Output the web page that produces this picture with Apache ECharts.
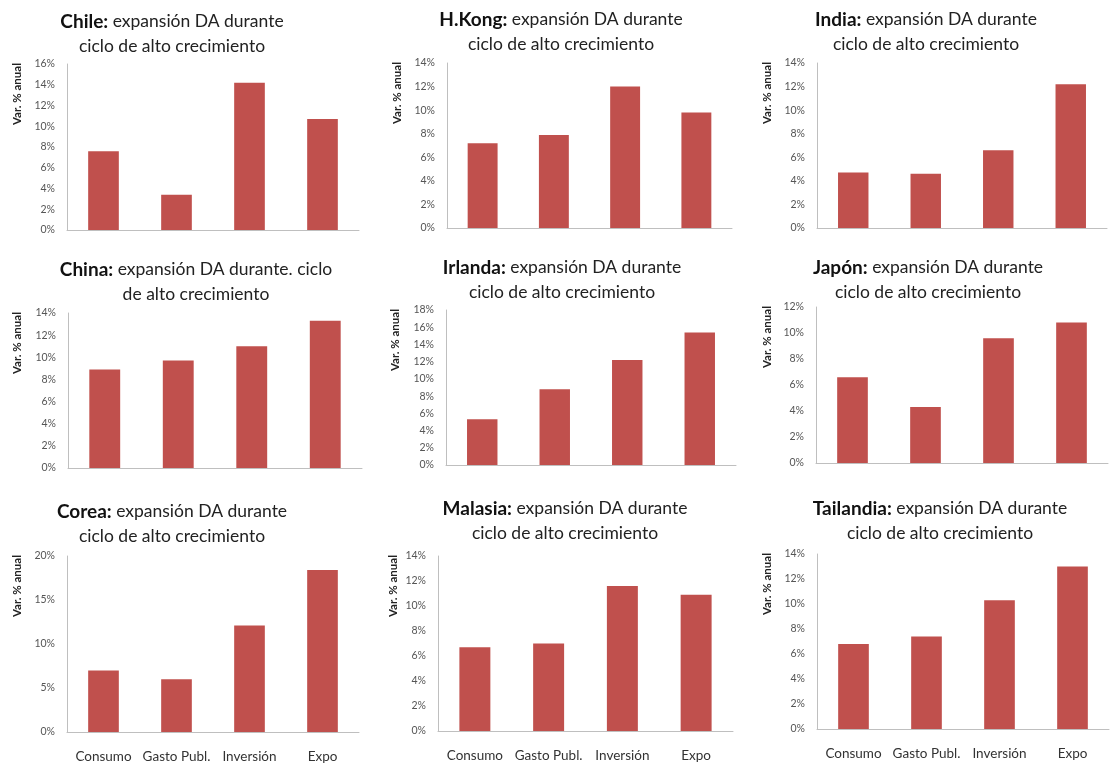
<!DOCTYPE html>
<html>
<head>
<meta charset="utf-8">
<script src="https://cdn.jsdelivr.net/npm/echarts@6/dist/echarts.min.js"></script>
<style>
html,body{margin:0;padding:0;background:#fff;}
#c{width:1110px;height:767px;}
</style>
</head>
<body>
<div id="c"></div>
<script>
// ---- data ----
const categories = ['Consumo', 'Gasto Publ.', 'Inversión', 'Expo'];
const countries = ['Chile', 'H.Kong', 'India', 'China', 'Irlanda', 'Japón', 'Corea', 'Malasia', 'Tailandia'];
const chile     = [7.6, 3.4, 14.2, 10.7];
const hkong     = [7.2, 7.9, 12.0, 9.8];
const india     = [4.7, 4.6, 6.6, 12.2];
const china     = [8.9, 9.7, 11.0, 13.3];
const irlanda   = [5.3, 8.8, 12.2, 15.4];
const japon     = [6.6, 4.3, 9.6, 10.8];
const corea     = [7.0, 6.0, 12.1, 18.4];
const malasia   = [6.7, 7.0, 11.6, 10.9];
const tailandia = [6.8, 7.4, 10.3, 13.0];
const yMax      = [16, 14, 14, 14, 18, 12, 20, 14, 14];
const yStep     = [2, 2, 2, 2, 2, 2, 5, 2, 2];
const titleRest1 = [' expansión DA durante', ' expansión DA durante', ' expansión DA durante',
  ' expansión DA durante. ciclo', ' expansión DA durante', ' expansión DA durante',
  ' expansión DA durante', ' expansión DA durante', ' expansión DA durante'];
const titleRest2 = ['ciclo de alto crecimiento', 'ciclo de alto crecimiento', 'ciclo de alto crecimiento',
  'de alto crecimiento', 'ciclo de alto crecimiento', 'ciclo de alto crecimiento',
  'ciclo de alto crecimiento', 'ciclo de alto crecimiento', 'ciclo de alto crecimiento'];
const yName = 'Var. % anual';
const seriesData = [chile, hkong, india, china, irlanda, japon, corea, malasia, tailandia];

// ---- layout (pixels) ----
const grids = [
  {left: 67,  top: 64,  width: 292, height: 166},
  {left: 447, top: 63,  width: 285, height: 165},
  {left: 817, top: 63,  width: 290, height: 165},
  {left: 68,  top: 313, width: 294, height: 155},
  {left: 446, top: 310, width: 290, height: 155},
  {left: 816, top: 307, width: 292, height: 156},
  {left: 67,  top: 556, width: 292, height: 176},
  {left: 438, top: 556, width: 295, height: 175},
  {left: 817, top: 554, width: 292, height: 175}
];
const titlePos = [
  {x: 172, y: 9}, {x: 561, y: 7}, {x: 926, y: 7},
  {x: 196, y: 257}, {x: 562, y: 255}, {x: 928, y: 255},
  {x: 172, y: 499}, {x: 565, y: 496}, {x: 940, y: 496}
];
const namePos = [17, 397, 767, 17, 395, 767, 17, 393, 767];

const FONT = 'Lato, "Open Sans", sans-serif';
const BAR = '#c0504d';

const option = {
  animation: false,
  backgroundColor: '#ffffff',
  textStyle: {fontFamily: FONT},
  title: [], grid: [], xAxis: [], yAxis: [], series: [], graphic: []
};

for (let i = 0; i < 9; i++) {
  const g = grids[i];
  const bottomRow = i >= 6;
  option.grid.push({left: g.left, top: g.top, width: g.width, height: g.height, containLabel: false});
  option.title.push({
    text: '{b|' + countries[i] + ':}{r|' + titleRest1[i] + '}\n{r|' + titleRest2[i] + '}',
    left: titlePos[i].x, top: titlePos[i].y, padding: 0,
    textAlign: 'center',
    textStyle: {
      fontFamily: FONT, fontWeight: 'normal',
      rich: {
        b: {fontFamily: FONT, fontWeight: 'bold', fontSize: 19, color: '#111', lineHeight: 25},
        r: {fontFamily: FONT, fontWeight: 'normal', fontSize: 17.5, color: '#222', lineHeight: 25}
      }
    }
  });
  option.xAxis.push({
    type: 'category', gridIndex: i, data: categories,
    axisLine: {show: true, lineStyle: {color: '#bfbfbf', width: 1}},
    axisTick: {show: false},
    axisLabel: {show: bottomRow, fontFamily: FONT, fontSize: 13.5, color: '#333', margin: 18, interval: 0}
  });
  option.yAxis.push({
    type: 'value', gridIndex: i, min: 0, max: yMax[i], interval: yStep[i],
    axisLine: {show: true, lineStyle: {color: '#bfbfbf', width: 1}},
    axisTick: {show: false},
    splitLine: {show: false},
    axisLabel: {fontFamily: FONT, fontSize: 10.5, color: '#555', margin: 12, formatter: '{value}%'}
  });
  option.series.push({
    type: 'bar', xAxisIndex: i, yAxisIndex: i, data: seriesData[i],
    barWidth: '42%', itemStyle: {color: BAR}
  });
  option.graphic.push({
    type: 'text', x: namePos[i], y: g.top - 1, rotation: Math.PI / 2,
    style: {text: yName, font: 'bold 11.5px ' + FONT, fill: '#222', align: 'right', verticalAlign: 'middle'}
  });
}

const chart = echarts.init(document.getElementById('c'), null, {renderer: 'canvas'});
chart.setOption(option);
</script>
</body>
</html>
